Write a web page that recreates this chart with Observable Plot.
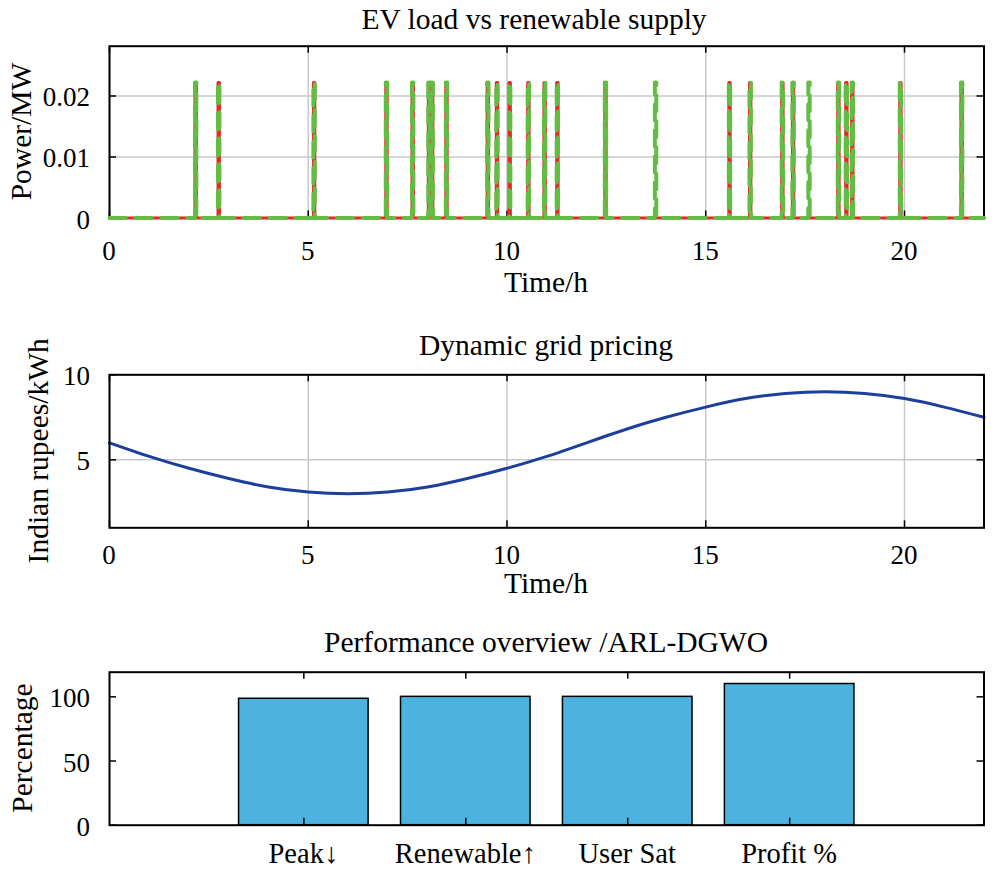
<!DOCTYPE html>
<html><head><meta charset="utf-8">
<script src="https://cdn.jsdelivr.net/npm/d3@7"></script>
<script src="https://cdn.jsdelivr.net/npm/@observablehq/plot@0.6"></script>
<style>
body{margin:0;background:#fff;}
#wrap{position:relative;width:993px;height:877px;background:#fff;}
#wrap svg{position:absolute;left:0;display:block;overflow:visible;}
</style></head><body><div id="wrap"></div>
<script>
// ---------- data ----------
// Panel 1: times (h) of charging / supply pulses
const renewableSpikeTimes = [2.15, 2.73, 5.13, 6.95, 7.61, 8.02, 8.10, 8.46, 9.50, 9.73, 10.05, 10.52, 10.93, 11.25, 12.46, 13.72, 15.58, 16.10, 16.91, 17.18, 17.58, 18.32, 18.52, 18.67, 19.88, 21.42];
const evLoadSpikeTimes = [2.15, 2.73, 5.13, 6.95, 7.61, 8.02, 8.10, 8.46, 9.50, 9.73, 10.05, 10.52, 10.93, 11.25, 12.46, 15.58, 16.10, 16.91, 17.18, 18.32, 18.52, 18.67, 19.88, 21.42];
const spikePower = 0.0222;   // MW
const pulseWidth = 0.035;    // h
const timeEnd = 22;
const timeTicks = [0, 5, 10, 15, 20];
const powerTicks = [0, 0.01, 0.02];

// Panel 2: dynamic grid price (Indian rupees/kWh), hourly
const priceHours = [0,1,2,3,4,5,6,7,8,9,10,11,12,13,14,15,16,17,18,19,20,21,22];
const priceValues = [6.0,5.2,4.5,3.9,3.4,3.1,3.0,3.1,3.4,3.9,4.5,5.2,6.0,6.8,7.5,8.1,8.6,8.9,9.0,8.9,8.6,8.1,7.5];
const priceTicks = [5, 10];

// Panel 3: performance overview
const perfCategories = ["Peak\u2193", "Renewable\u2191", "User Sat", "Profit %"];
const perfValues = [98.5, 100, 100, 110];
const percentTicks = [0, 50, 100];

// ---------- helpers ----------
const FONT = "'Liberation Serif','Times New Roman',Times,serif";
const W = 993, ML = 109, MR = 9.5;
const wrap = document.getElementById("wrap");

function pulses(times){
  const pts = [{t:0, p:0}];
  for (const t of times){
    pts.push({t, p:0},{t, p:spikePower},{t:t+pulseWidth, p:spikePower},{t:t+pulseWidth, p:0});
  }
  pts.push({t:timeEnd, p:0});
  return pts;
}
const renewableSeries = pulses(renewableSpikeTimes);
const evLoadSeries = pulses(evLoadSpikeTimes);
const priceSeries = priceHours.map((h,i)=>({t:h, v:priceValues[i]}));
const perf = perfCategories.map((c,i)=>({c, i:i+1, v:perfValues[i]}));

const TL = 7; // inner tick length
function innerTicks(xt, yt, plotW, plotH){
  return [
    Plot.tickX(xt, {x:d=>d, insetTop:plotH-TL, stroke:"black", strokeWidth:1.5}),
    Plot.tickX(xt, {x:d=>d, insetBottom:plotH-TL, stroke:"black", strokeWidth:1.5}),
    Plot.tickY(yt, {y:d=>d, insetRight:plotW-TL, stroke:"black", strokeWidth:1.5}),
    Plot.tickY(yt, {y:d=>d, insetLeft:plotW-TL, stroke:"black", strokeWidth:1.5})
  ];
}
function addText(svg, x, y, txt, size, opts={}){
  const t = d3.select(svg).append("text")
    .attr("text-anchor", opts.anchor || "middle")
    .attr("font-family",FONT)
    .attr("font-size",size)
    .attr("fill","black")
    .text(txt);
  if (opts.rotate) t.attr("transform",`translate(${x},${y}) rotate(-90)`);
  else t.attr("x",x).attr("y",y);
}
// tick labels positioned through the plot's own scales
function xLabels(svg, values, fmt, baseline, size){
  const sx = svg.scale("x");
  for (const v of values) addText(svg, sx.apply(v), baseline, fmt(v), size);
}
function yLabels(svg, values, fmt, right, size){
  const sy = svg.scale("y");
  for (const v of values) addText(svg, right, sy.apply(v) + 11, fmt(v), size, {anchor:"end"});
}
function place(svg, top){ svg.style.top = top+"px"; wrap.appendChild(svg); }
const style = {fontFamily:FONT, fontSize:"27px", color:"black", background:"transparent", overflow:"visible"};
const gridStyle = {stroke:"#c8c8c8", strokeOpacity:1, strokeWidth:1.5};

// ---------- panel 1 ----------
{
  const H=300, mt=45.7, mb=H-217.5;
  const plotW = W-ML-MR, plotH = H-mt-mb;
  const svg = Plot.plot({
    width:W, height:H, marginTop:mt, marginBottom:mb, marginLeft:ML, marginRight:MR,
    style,
    x:{domain:[0,timeEnd], axis:null}, y:{domain:[0,0.02816], axis:null},
    marks:[
      Plot.gridX(timeTicks, gridStyle),
      Plot.gridY(powerTicks, gridStyle),
      Plot.frame({stroke:"black", strokeWidth:2}),
      ...innerTicks(timeTicks, powerTicks, plotW, plotH),
      Plot.line(evLoadSeries, {x:"t", y:"p", stroke:"#e8262a", strokeWidth:3}),
      Plot.line(renewableSeries, {x:"t", y:"p", stroke:"#63bd45", strokeWidth:4, strokeDasharray:"16 10"})
    ]
  });
  xLabels(svg, timeTicks, String, 259.5, 27);
  yLabels(svg, powerTicks, String, 90, 27);
  addText(svg, 534, 29.3, "EV load vs renewable supply", 29.5);
  addText(svg, 546, 292, "Time/h", 29.5);
  addText(svg, 31, 131.5, "Power/MW", 29.5, {rotate:true});
  place(svg, 0);
}

// ---------- panel 2 ----------
{
  const top=300, H=300, mt=374.3-top, mb=H-(527.3-top);
  const plotW = W-ML-MR, plotH = H-mt-mb;
  const svg = Plot.plot({
    width:W, height:H, marginTop:mt, marginBottom:mb, marginLeft:ML, marginRight:MR,
    style,
    x:{domain:[0,timeEnd], axis:null}, y:{domain:[1,10], axis:null},
    marks:[
      Plot.gridX(timeTicks, gridStyle),
      Plot.gridY(priceTicks, gridStyle),
      Plot.line(priceSeries, {x:"t", y:"v", stroke:"#1c3f99", strokeWidth:3, curve:"natural"}),
      Plot.frame({stroke:"black", strokeWidth:2}),
      ...innerTicks(timeTicks, priceTicks, plotW, plotH)
    ]
  });
  xLabels(svg, timeTicks, String, 264.3, 27);
  yLabels(svg, priceTicks, String, 90, 27);
  addText(svg, 546, 54.5, "Dynamic grid pricing", 29.5);
  addText(svg, 546, 293, "Time/h", 29.5);
  addText(svg, 48, 150.8, "Indian rupees/kWh", 29.5, {rotate:true});
  place(svg, top);
}

// ---------- panel 3 ----------
{
  const top=600, H=277, mt=671.7-top, mb=H-(824.7-top);
  const plotW = W-ML-MR, plotH = H-mt-mb;
  const svg = Plot.plot({
    width:W, height:H, marginTop:mt, marginBottom:mb, marginLeft:ML, marginRight:MR,
    style,
    x:{domain:[-0.2, perfCategories.length+1.2], axis:null}, y:{domain:[0,119.2], axis:null},
    marks:[
      Plot.rectY(perf, {x1:d=>d.i-0.4, x2:d=>d.i+0.4, y:"v", fill:"#4cb2df", stroke:"black", strokeWidth:1.5}),
      Plot.frame({stroke:"black", strokeWidth:2}),
      ...innerTicks(perf.map(d=>d.i), percentTicks, plotW, plotH)
    ]
  });
  xLabels(svg, perf.map(d=>d.i), i=>perfCategories[i-1], 262.5, 28.5);
  yLabels(svg, percentTicks, String, 90, 27);
  addText(svg, 546, 51.7, "Performance overview /ARL-DGWO", 29.5);
  addText(svg, 32, 148, "Percentage", 29.5, {rotate:true});
  place(svg, top);
}
</script></body></html>
